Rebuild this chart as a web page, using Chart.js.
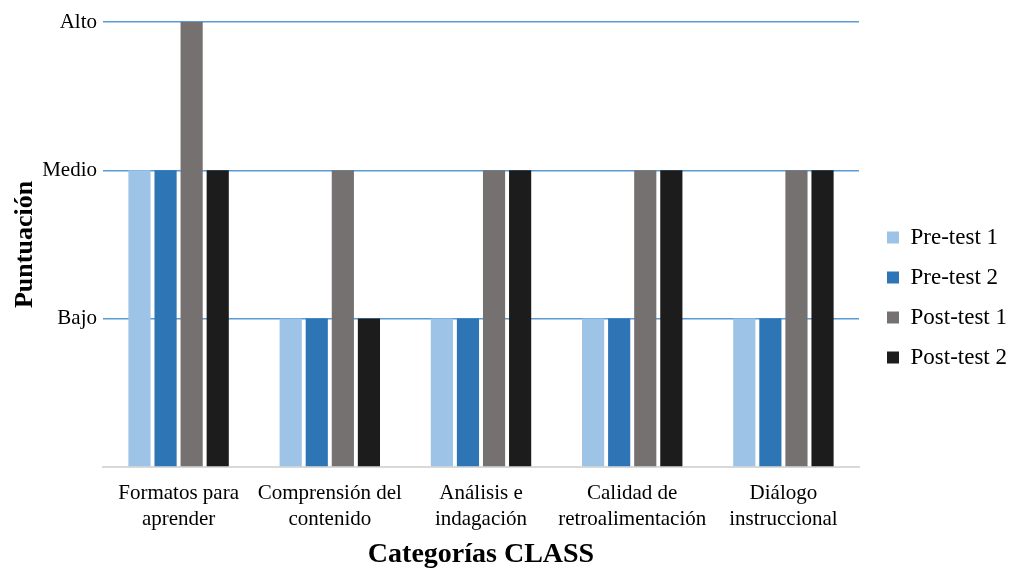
<!DOCTYPE html>
<html>
<head>
<meta charset="utf-8">
<script src="https://cdn.jsdelivr.net/npm/chart.js@4.4.0/dist/chart.umd.min.js"></script>
<style>
  html, body { margin: 0; padding: 0; background: #fff; }
  #wrap { width: 1011px; height: 569px; position: relative; }
</style>
</head>
<body>
<div id="wrap"><canvas id="myChart"></canvas></div>
<script>
const categories = [
  ['Formatos para', 'aprender'],
  ['Comprensión del', 'contenido'],
  ['Análisis e', 'indagación'],
  ['Calidad de', 'retroalimentación'],
  ['Diálogo', 'instruccional']
]
const levelLabels = ['', 'Bajo', 'Medio', 'Alto']
const preTest1 = [2, 1, 1, 1, 1]
const preTest2 = [2, 1, 1, 1, 1]
const postTest1 = [3, 2, 2, 2, 2]
const postTest2 = [2, 1, 2, 2, 2]

const serif = "'Liberation Serif', 'Times New Roman', serif"

// nudge the legend a bit right and down, like the original
const legendShift = {
  id: 'legendShift',
  afterLayout(chart) {
    const lg = chart.legend
    lg.left += 11
    lg.right += 11
    lg.top += 2
    lg.bottom += 2
  }
}

const ctx = document.getElementById('myChart').getContext('2d')
const myChart = new Chart(ctx, {
  type: 'bar',
  data: {
    labels: categories,
    datasets: [
      { label: 'Pre-test 1', data: preTest1, backgroundColor: '#9DC3E6' },
      { label: 'Pre-test 2', data: preTest2, backgroundColor: '#2E75B6' },
      { label: 'Post-test 1', data: postTest1, backgroundColor: '#767171' },
      { label: 'Post-test 2', data: postTest2, backgroundColor: '#1C1C1C' }
    ]
  },
  plugins: [legendShift],
  options: {
    responsive: true,
    maintainAspectRatio: false,
    animation: false,
    datasets: {
      bar: { categoryPercentage: 0.69, barPercentage: 0.85 }
    },
    layout: { padding: { top: 22, right: 5, left: 4, bottom: 0 } },
    plugins: {
      legend: {
        position: 'right',
        labels: {
          boxWidth: 12,
          boxHeight: 12,
          padding: 17,
          color: '#000',
          font: { family: serif, size: 23 }
        }
      },
      tooltip: { enabled: false }
    },
    scales: {
      x: {
        grid: { display: false, drawTicks: false },
        border: { color: '#D9D9D9', width: 2 },
        ticks: {
          color: '#000',
          padding: 14,
          maxRotation: 0,
          font: { family: serif, size: 21, lineHeight: 1.24 }
        },
        title: {
          display: true,
          text: 'Categorías CLASS',
          color: '#000',
          padding: { top: -6, bottom: 0 },
          font: { family: serif, size: 28, weight: 'bold', lineHeight: 1.0 }
        }
      },
      y: {
        min: 0,
        max: 3,
        afterFit: scale => { scale.width = 99 },
        border: { display: false },
        grid: {
          drawTicks: false,
          lineWidth: 1.5,
          color: c => c.tick.value === 0 ? 'rgba(0,0,0,0)' : '#5B9BD5'
        },
        ticks: {
          stepSize: 1,
          padding: 6,
          color: '#000',
          font: { family: serif, size: 21 },
          callback: v => levelLabels[v]
        },
        title: {
          display: true,
          text: 'Puntuación',
          color: '#000',
          padding: { top: 6, bottom: 0 },
          font: { family: serif, size: 26, weight: 'bold' }
        }
      }
    }
  }
})
</script>
</body>
</html>
